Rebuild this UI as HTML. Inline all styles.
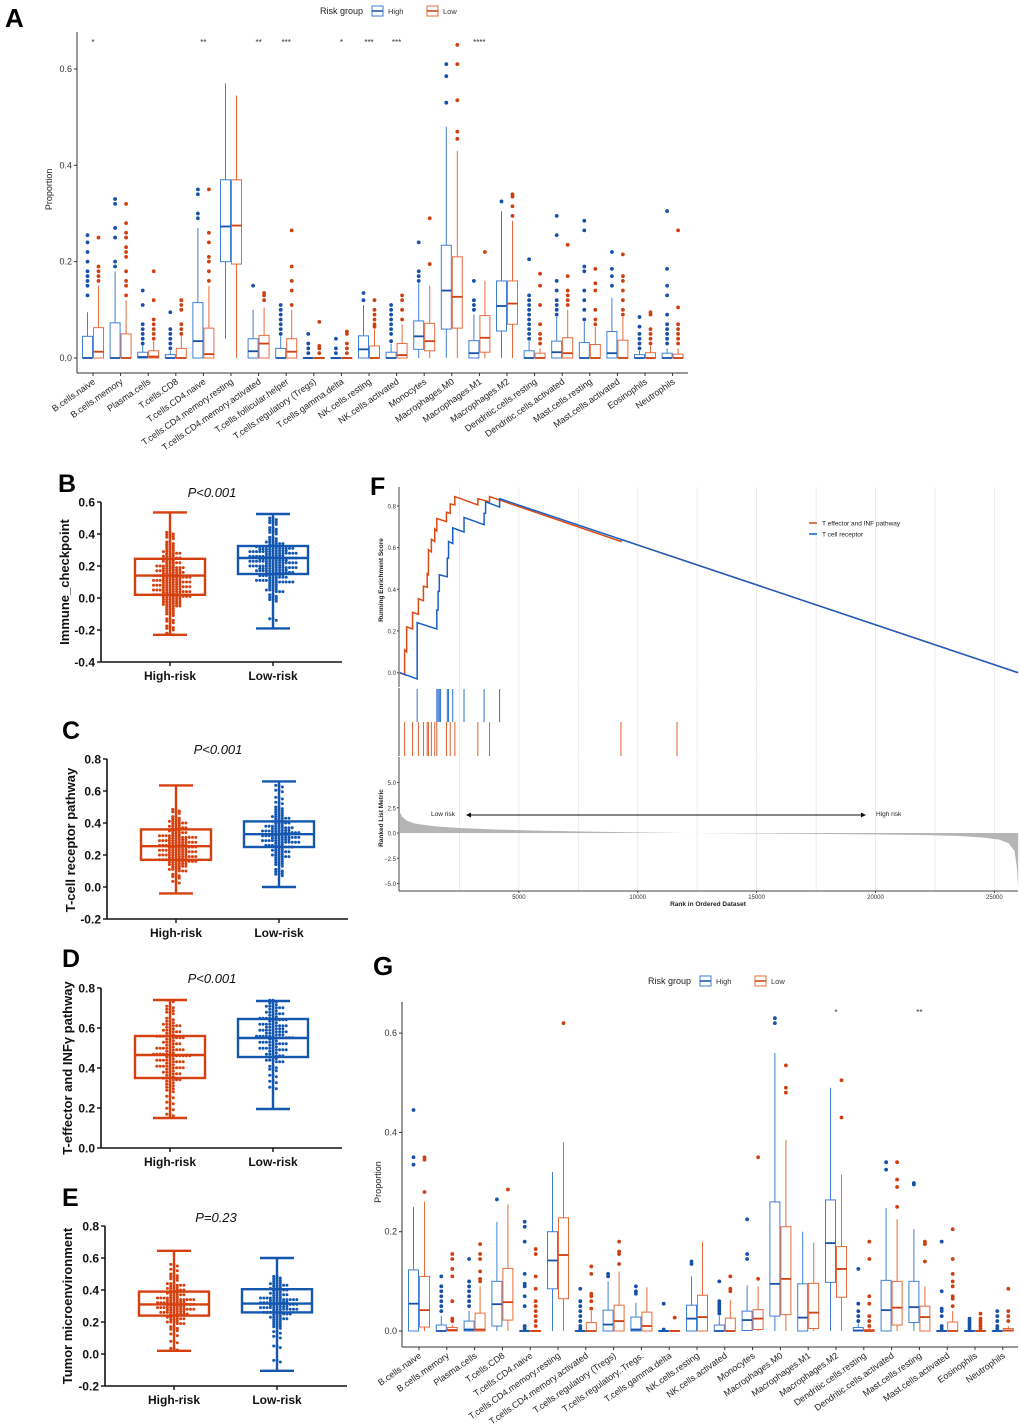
<!DOCTYPE html>
<html><head><meta charset="utf-8"><style>
html,body{margin:0;padding:0;background:#fff;}
svg{display:block;font-family:"Liberation Sans",Arial,sans-serif;}
</style></head><body>
<svg id="fig" width="1020" height="1424" viewBox="0 0 1020 1424" xmlns="http://www.w3.org/2000/svg"></svg>
<script>
// ---------- Panel A data ----------
const catsA = ["B.cells.naive","B.cells.memory","Plasma.cells","T.cells.CD8","T.cells.CD4.naive","T.cells.CD4.memory.resting","T.cells.CD4.memory.activated","T.cells.follicular.helper","T.cells.regulatory (Tregs)","T.cells.gamma.delta","NK.cells.resting","NK.cells.activated","Monocytes","Macrophages.M0","Macrophages.M1","Macrophages.M2","Dendritic.cells.resting","Dendritic.cells.activated","Mast.cells.resting","Mast.cells.activated","Eosinophils","Neutrophils"];
// [whiskerLow, q1, median, q3, whiskerHigh]
const highA = [[0,0,0,.045,.095],[0,0,0,.073,.18],[0,0,.002,.012,.027],[0,0,0,.007,.015],[0,0,.035,.115,.27],[.04,.2,.273,.37,.57],[0,0,.014,.04,.1],[0,0,0,.02,.045],[0,0,0,.001,.002],[0,0,0,.001,.002],[0,0,.018,.046,.11],[0,0,0,.012,.03],[0,.018,.045,.077,.155],[0,.06,.14,.234,.48],[0,0,.01,.036,.09],[0,.056,.108,.16,.305],[0,0,0,.015,.035],[0,0,.012,.035,.085],[0,0,0,.032,.075],[0,0,.01,.055,.125],[0,0,0,.007,.015],[0,0,0,.01,.02]];
const lowA = [[0,0,.013,.063,.15],[0,0,0,.05,.12],[0,0,.003,.015,.035],[0,0,0,.02,.045],[0,0,.008,.062,.15],[0,.195,.275,.37,.545],[0,0,.03,.047,.105],[0,0,.013,.04,.1],[0,0,0,.001,.002],[0,0,0,.001,.002],[0,0,0,.025,.06],[0,0,.006,.03,.07],[0,.015,.035,.072,.15],[0,.062,.127,.21,.43],[0,.012,.042,.088,.16],[0,.07,.113,.16,.285],[0,0,0,.01,.02],[0,0,.01,.042,.1],[0,0,0,.028,.065],[0,0,0,.037,.085],[0,0,0,.011,.025],[0,0,0,.008,.02]];
const highOutA = [[.13,.15,.16,.17,.18,.2,.22,.24,.255],[.19,.2,.25,.27,.32,.33],[.03,.04,.05,.06,.07,.11,.14],[.02,.03,.04,.05,.06,.095],[.29,.3,.34,.35],[],[.15],[.05,.06,.07,.08,.09,.1,.11],[.01,.02,.03,.05],[.01,.02,.04],[.12,.135],[.035,.05,.06,.07,.08,.09,.1,.11],[.16,.17,.18,.24],[.53,.585,.61],[.1,.11,.12,.16],[.325],[.04,.05,.06,.07,.08,.09,.1,.11,.12,.13,.205],[.09,.1,.11,.12,.14,.16,.255,.295],[.08,.1,.12,.14,.18,.19,.265,.285],[.15,.17,.185,.22],[.02,.03,.04,.05,.065,.085],[.03,.04,.05,.06,.07,.09,.13,.15,.185,.305]];
const lowOutA = [[.16,.17,.18,.19,.25],[.13,.15,.16,.18,.21,.22,.23,.25,.26,.28,.32],[.04,.05,.06,.07,.08,.12,.18],[.05,.06,.07,.1,.11,.12],[.16,.18,.2,.21,.24,.26,.35],[],[.12,.13,.135],[.11,.14,.16,.19,.265],[.01,.02,.025,.075],[.01,.02,.03,.05,.055],[.065,.07,.08,.09,.1,.12],[.08,.1,.12,.13],[.195,.29],[.455,.47,.535,.61,.65],[.22],[.295,.315,.335,.34],[.03,.04,.05,.07,.11,.15,.175],[.11,.12,.13,.14,.17,.235],[.07,.08,.1,.14,.155,.185],[.09,.1,.12,.14,.16,.17,.215],[.03,.04,.05,.06,.09,.095],[.03,.04,.05,.06,.07,.105,.265]];
const starsA = ["*","","","","**","","**","***","","*","***","***","","","****","","","","","","",""];
const ticksA = [0,0.2,0.4,0.6];

// ---------- Panel G data ----------
const catsG = ["B.cells.naive","B.cells.memory","Plasma.cells","T.cells.CD8","T.cells.CD4.naive","T.cells.CD4.memory.resting","T.cells.CD4.memory.activated","T.cells.regulatory (Tregs)","T.cells.regulatory..Tregs.","T.cells.gamma.delta","NK.cells.resting","NK.cells.activated","Monocytes","Macrophages.M0","Macrophages.M1","Macrophages.M2","Dendritic.cells.resting","Dendritic.cells.activated","Mast.cells.resting","Mast.cells.activated","Eosinophils","Neutrophils"];
const highG = [[0,0,.055,.123,.25],[0,0,0,.012,.03],[0,0,.003,.02,.04],[0,.01,.054,.1,.22],[0,0,0,.001,.002],[0,.085,.142,.2,.32],[0,0,0,.001,.002],[0,0,.013,.042,.1],[0,0,.003,.028,.057],[0,0,0,.001,.002],[0,0,.025,.052,.11],[0,0,0,.012,.03],[0,.001,.022,.04,.092],[0,.03,.095,.26,.56],[0,0,.027,.095,.2],[0,.098,.177,.264,.49],[0,0,.001,.007,.015],[0,0,.042,.102,.248],[0,.017,.048,.1,.205],[0,0,0,.001,.002],[0,0,0,.001,.002],[0,0,0,.001,.002]];
const lowG = [[0,.008,.042,.11,.26],[0,0,.002,.007,.013],[0,0,.003,.036,.09],[0,.022,.058,.126,.255],[0,0,0,.001,.002],[0,.065,.153,.228,.38],[0,0,0,.017,.04],[0,0,.02,.052,.12],[0,0,.01,.038,.088],[0,0,0,.001,.002],[0,0,.028,.072,.18],[0,0,0,.026,.063],[0,.003,.025,.043,.09],[0,.033,.105,.21,.385],[0,.005,.037,.096,.178],[0,.068,.125,.17,.315],[0,0,0,.003,.006],[0,.012,.047,.1,.225],[0,0,.028,.05,.09],[0,0,0,.018,.04],[0,0,0,.001,.002],[0,0,.001,.005,.01]];
const highOutG = [[.335,.35,.445],[.04,.05,.06,.07,.08,.09,.11],[.05,.06,.07,.08,.09,.1,.145],[.265],[.005,.01,.05,.07,.09,.095,.115,.18,.21,.22],[],[.005,.01,.02,.03,.04,.05,.06,.085],[.11,.115],[.075,.08,.09],[.003,.055],[.135,.14],[.035,.04,.045,.05,.055,.06,.1],[.145,.155,.225],[.62,.63],[],[],[.02,.03,.04,.055,.125],[.325,.34],[.295,.298],[.005,.01,.03,.04,.045,.08,.18],[.005,.01,.015,.02,.025],[.005,.01,.02,.03,.04]];
const lowOutG = [[.28,.345,.35],[.02,.025,.06,.11,.125,.145,.155],[.1,.105,.12,.145,.155,.175],[.285],[.01,.02,.03,.04,.05,.06,.085,.11,.155,.165],[.62],[.045,.06,.07,.075,.115,.13],[.135,.155,.16,.18],[],[.027],[],[.08,.085,.11],[.105,.35],[.48,.49,.535],[],[.43,.505],[.01,.02,.03,.055,.07,.145,.18],[.25,.29,.305,.34],[.14,.175,.18],[.05,.065,.07,.09,.1,.115,.145,.205],[.005,.01,.015,.02,.025,.035],[.02,.03,.04,.085]];
const starsG = ["","","","","","","","","","","","","","","","*","","","**","","",""];
const ticksG = [0,0.2,0.4,0.6];

// ---------- Panels B-E data: [min, q1, median, q3, max] ----------
const boxB_high = [-.23,.02,.14,.245,.535];
const boxB_low = [-.19,.15,.25,.325,.525];
const boxC_high = [-.04,.17,.255,.36,.635];
const boxC_low = [0,.25,.33,.41,.66];
const boxD_high = [.15,.35,.465,.56,.74];
const boxD_low = [.195,.455,.55,.645,.735];
const boxE_high = [.02,.24,.31,.39,.645];
const boxE_low = [-.105,.26,.315,.405,.6];
const dotsB_high = [-0.22,-0.2,-0.18,-0.15,-0.13,-0.1,-0.09,-0.07,-0.06,-0.05,-0.04,-0.03,-0.03,-0.02,-0.01,0,0,0.01,0.01,0.02,0.02,0.03,0.03,0.04,0.04,0.05,0.05,0.06,0.06,0.07,0.07,0.08,0.08,0.09,0.09,0.1,0.1,0.11,0.11,0.12,0.12,0.13,0.13,0.14,0.14,0.15,0.15,0.16,0.16,0.17,0.18,0.18,0.19,0.2,0.2,0.21,0.22,0.23,0.24,0.25,0.26,0.27,0.28,0.29,0.3,0.31,0.33,0.35,0.37,0.39,0.4];
const dotsB_low = [-0.13,-0.01,0,0.02,0.04,0.05,0.06,0.08,0.09,0.1,0.1,0.11,0.11,0.12,0.13,0.14,0.14,0.15,0.15,0.16,0.16,0.17,0.17,0.18,0.18,0.18,0.19,0.19,0.2,0.2,0.2,0.21,0.21,0.22,0.22,0.22,0.23,0.23,0.24,0.24,0.24,0.25,0.25,0.25,0.26,0.26,0.27,0.27,0.28,0.28,0.28,0.29,0.29,0.3,0.3,0.3,0.31,0.31,0.32,0.32,0.33,0.34,0.35,0.36,0.38,0.4,0.42,0.44,0.46,0.48,0.5];
const dotsC_high = [0.03,0.06,0.08,0.1,0.11,0.12,0.13,0.14,0.15,0.15,0.16,0.16,0.17,0.17,0.18,0.18,0.19,0.19,0.2,0.2,0.21,0.21,0.22,0.22,0.23,0.23,0.24,0.24,0.25,0.25,0.26,0.26,0.27,0.27,0.28,0.28,0.29,0.29,0.3,0.3,0.31,0.31,0.32,0.32,0.33,0.34,0.35,0.36,0.37,0.38,0.39,0.4,0.41,0.42,0.44,0.46,0.48];
const dotsC_low = [0.07,0.09,0.11,0.13,0.15,0.17,0.18,0.19,0.2,0.21,0.22,0.23,0.24,0.25,0.25,0.26,0.27,0.28,0.28,0.29,0.29,0.3,0.3,0.31,0.31,0.32,0.32,0.33,0.33,0.34,0.34,0.35,0.35,0.36,0.36,0.37,0.38,0.38,0.39,0.4,0.41,0.42,0.43,0.44,0.45,0.46,0.48,0.5,0.52,0.55,0.6,0.63];
const dotsD_high = [0.17,0.2,0.23,0.26,0.28,0.3,0.32,0.33,0.34,0.35,0.36,0.37,0.38,0.39,0.4,0.4,0.41,0.42,0.43,0.44,0.44,0.45,0.46,0.46,0.47,0.47,0.48,0.49,0.5,0.5,0.51,0.52,0.53,0.54,0.55,0.55,0.56,0.57,0.58,0.59,0.6,0.61,0.62,0.63,0.65,0.67,0.69,0.71,0.73];
const dotsD_low = [0.3,0.33,0.36,0.39,0.41,0.43,0.44,0.45,0.46,0.47,0.48,0.49,0.5,0.5,0.51,0.52,0.53,0.53,0.54,0.55,0.55,0.56,0.56,0.57,0.57,0.58,0.58,0.59,0.6,0.6,0.61,0.62,0.62,0.63,0.64,0.64,0.65,0.66,0.67,0.68,0.69,0.7,0.71,0.72,0.73];
const dotsE_high = [0.03,0.08,0.12,0.15,0.17,0.19,0.2,0.21,0.22,0.23,0.24,0.25,0.25,0.26,0.27,0.27,0.28,0.28,0.29,0.29,0.3,0.3,0.31,0.31,0.32,0.32,0.33,0.33,0.34,0.34,0.35,0.35,0.36,0.37,0.38,0.39,0.4,0.41,0.42,0.43,0.44,0.46,0.48,0.5,0.52,0.55];
const dotsE_low = [-0.05,0.05,0.1,0.13,0.16,0.18,0.2,0.21,0.22,0.23,0.24,0.25,0.26,0.26,0.27,0.28,0.28,0.29,0.29,0.3,0.3,0.31,0.31,0.32,0.32,0.33,0.33,0.34,0.34,0.35,0.35,0.36,0.37,0.38,0.39,0.4,0.41,0.42,0.43,0.44,0.45,0.46,0.48];

// ---------- Panel F data ----------
const esRanksOrange = [0,194,194,280,280,528,528,774,774,986,986,1144,1144,1197,1197,1320,1320,1461,1461,1549,1549,1954,1954,2112,2112,2306,2306,3274,3274,3766,3766,9293,9293,11651,26000];
const esValsOrange = [0,-.01,.11,.10,.22,.21,.29,.28,.355,.345,.415,.41,.475,.47,.59,.58,.64,.63,.69,.68,.74,.725,.77,.765,.81,.805,.845,.805,.835,.82,.845,.63,.64,.55,0];
const esRanksBlue = [0,722,722,1549,1549,1602,1602,1654,1654,1989,1989,2042,2042,2218,2218,2693,2693,3538,3538,3600,3600,4189,4189,26000];
const esValsBlue = [0,-.03,.24,.21,.30,.30,.39,.39,.47,.46,.55,.55,.63,.62,.695,.675,.745,.71,.765,.765,.82,.795,.835,0];
const hitsBlue = [722,1549,1602,1654,1707,1989,2042,2218,2693,3538,4189];
const hitsOrange = [194,528,774,986,1144,1197,1320,1461,1549,1954,2112,2306,3274,3766,9293,11651];
const metricRanks = [0,100,300,600,1000,1500,2500,4000,6000,8000,10000,12000,14000,16000,18000,20000,22000,23500,24500,25200,25600,25850,25950,26000];
const metricVals = [2.0,1.6,1.2,0.95,0.8,0.65,0.5,0.35,0.22,0.14,0.06,0,-0.03,-0.06,-0.1,-0.14,-0.2,-0.3,-0.45,-0.65,-1.0,-1.8,-3.5,-5.5];
const esTicks = [0,0.2,0.4,0.6,0.8];
const metricTicks = [-5,-2.5,0,2.5,5];
const rankTicks = [5000,10000,15000,20000,25000];

// ---------- helpers ----------
const NS = "http://www.w3.org/2000/svg";
const svg = document.getElementById("fig");
function el(tag, attrs, parent, text){
  const e = document.createElementNS(NS, tag);
  for (const k in attrs) e.setAttribute(k, attrs[k]);
  if (text !== undefined) e.textContent = text;
  (parent || svg).appendChild(e);
  return e;
}
function grp(name, parent){
  const g = el("g", {}, parent);
  
  
  return g;
}
const BLUE_L = "#3f7fd6", BLUE_D = "#1650aa", OR_L = "#ea6a3c", OR_D = "#cf3f10";

// ---------- Immune box panel (A & G) ----------
function immunePanel(o){
  const g = grp(o.name);
  const y = v => o.y0 - v * o.ppu;
  const x = i => o.x0 + i * o.step;
  const lt = el("text",{x:o.letX,y:o.letY,"font-size":26,"font-weight":"bold",fill:"#000"},g,o.letter);
  
  el("line",{x1:o.ax,y1:o.top,x2:o.ax,y2:o.axY,stroke:"#333","stroke-width":1},g);
  el("line",{x1:o.ax,y1:o.axY,x2:o.right,y2:o.axY,stroke:"#333","stroke-width":1},g);
  o.ticks.forEach(t=>{
    el("line",{x1:o.ax-3,y1:y(t),x2:o.ax,y2:y(t),stroke:"#333"},g);
    const tx = el("text",{x:o.ax-5,y:y(t)+3,"font-size":9,"text-anchor":"end",fill:"#333"},g,t.toFixed(1));
    
  });
  const yt = el("text",{x:0,y:0,"font-size":9,"text-anchor":"middle",fill:"#222",transform:`translate(${o.ytX},${y(o.ytV)}) rotate(-90)`},g,"Proportion");
  
  o.cats.forEach((c,i)=>{
    const cx = x(i);
    el("line",{x1:cx,y1:o.axY,x2:cx,y2:o.axY+3,stroke:"#333"},g);
    const lb = el("text",{x:0,y:0,"font-size":9,"text-anchor":"end",fill:"#222",transform:`translate(${cx+3},${o.axY+10}) rotate(-35)`},g,c);
    
    [[o.high[i],o.highOut[i],-1,BLUE_L,BLUE_D],[o.low[i],o.lowOut[i],1,OR_L,OR_D]].forEach(([b,outs,s,cl,cd])=>{
      const bx = cx + s*o.off, hw = o.hw;
      const bg = grp(s<0?"box-high":"box-low", g);
      el("line",{x1:bx,y1:y(b[0]),x2:bx,y2:y(b[1]),stroke:cl,"stroke-width":1},bg);
      el("line",{x1:bx,y1:y(b[3]),x2:bx,y2:y(b[4]),stroke:cl,"stroke-width":1},bg);
      el("rect",{x:bx-hw,y:y(b[3]),width:2*hw,height:Math.max(0.8,y(b[1])-y(b[3])),fill:"none",stroke:cl,"stroke-width":1},bg);
      el("line",{x1:bx-hw,y1:y(b[2]),x2:bx+hw,y2:y(b[2]),stroke:cd,"stroke-width":1.8},bg);
      outs.forEach(v=>{ el("circle",{cx:bx,cy:y(v),r:1.9,fill:cd},bg); });
    });
    if (o.stars[i]) {
      const st = el("text",{x:cx,y:o.starY,"font-size":8,"text-anchor":"middle",fill:"#333"},g,o.stars[i]);
      
    }
  });
  const lg = grp("legend", g);
  el("text",{x:o.legX,y:o.legY+3,"font-size":9,fill:"#222"},lg,"Risk group");
  [[o.legX+52,"High",BLUE_L,BLUE_D],[o.legX+107,"Low",OR_L,OR_D]].forEach(([lx,t,cl,cd])=>{
    el("rect",{x:lx,y:o.legY-5,width:11,height:10,fill:"none",stroke:cl},lg);
    el("line",{x1:lx,y1:o.legY,x2:lx+11,y2:o.legY,stroke:cd,"stroke-width":1.5},lg);
    const le = el("text",{x:lx+16,y:o.legY+3,"font-size":7.5,fill:"#333"},lg,t);
    
  });
}
immunePanel({name:"panel-a",letter:"A",letX:5,letY:27,cats:catsA,high:highA,low:lowA,highOut:highOutA,lowOut:lowOutA,stars:starsA,ticks:ticksA,
  ax:77,top:32,axY:373,right:688,y0:358,ppu:481.7,x0:93,step:27.6,off:5.5,hw:5,ytX:52,ytV:0.35,starY:45,legX:320,legY:11});
immunePanel({name:"panel-g",letter:"G",letX:373,letY:975,cats:catsG,high:highG,low:lowG,highOut:highOutG,lowOut:lowOutG,stars:starsG,ticks:ticksG,
  ax:402,top:1002,axY:1347,right:1018,y0:1331,ppu:496.5,x0:419,step:27.8,off:5.5,hw:5,ytX:381,ytV:0.3,starY:1015,legX:648,legY:981});

// ---------- Beeswarm panels B-E ----------
function swarmPanel(o){
  const g = grp(o.name);
  const y = v => o.yTop + (o.vTop - v) / (o.vTop - o.vBot) * (o.yBot - o.yTop);
  el("line",{x1:o.ax,y1:o.yTop,x2:o.ax,y2:o.yBot,stroke:"#111","stroke-width":1.6},g);
  el("line",{x1:o.ax,y1:o.yBot,x2:o.xEnd,y2:o.yBot,stroke:"#111","stroke-width":1.6},g);
  o.ticks.forEach(t=>{
    el("line",{x1:o.ax-4,y1:y(t),x2:o.ax,y2:y(t),stroke:"#111","stroke-width":1.4},g);
    const tl = el("text",{x:o.ax-6,y:y(t)+4.5,"font-size":12,"font-weight":"bold","text-anchor":"end",fill:"#111"},g,t.toFixed(1));
    
  });
  const yt = el("text",{x:0,y:0,"font-size":13,"font-weight":"bold","text-anchor":"middle",fill:"#111",transform:`translate(${o.ytX},${o.ytY}) rotate(-90)`},g,o.ytitle);
  
  const pt = el("text",{x:o.pX,y:o.pY,"font-size":13,"font-style":"italic","text-anchor":"middle",fill:"#111"},g,o.p);
  
  const lt = el("text",{x:o.lX,y:o.lY,"font-size":25,"font-weight":"bold",fill:"#000"},g,o.letter);
  
  [[o.hiX,o.boxH,o.dotsH,"#d6400f","High-risk","group-high-risk"],[o.loX,o.boxL,o.dotsL,"#1457b0","Low-risk","group-low-risk"]].forEach(([cx,b,dots,col,lab,nm])=>{
    const gg = grp(nm, g);
    el("line",{x1:cx,y1:o.yBot,x2:cx,y2:o.yBot+4,stroke:"#111","stroke-width":1.4},gg);
    const xl = el("text",{x:cx,y:o.labY,"font-size":12,"font-weight":"bold","text-anchor":"middle",fill:"#111"},gg,lab);
    
    el("line",{x1:cx,y1:y(b[0]),x2:cx,y2:y(b[4]),stroke:col,"stroke-width":2.4},gg);
    el("line",{x1:cx-17,y1:y(b[0]),x2:cx+17,y2:y(b[0]),stroke:col,"stroke-width":2.4},gg);
    el("line",{x1:cx-17,y1:y(b[4]),x2:cx+17,y2:y(b[4]),stroke:col,"stroke-width":2.4},gg);
    el("rect",{x:cx-35,y:y(b[3]),width:70,height:y(b[1])-y(b[3]),fill:"none",stroke:col,"stroke-width":2.4},gg);
    el("line",{x1:cx-35,y1:y(b[2]),x2:cx+35,y2:y(b[2]),stroke:col,"stroke-width":2.4},gg);
    // beeswarm: each value represents ~3 samples
    const bins = {};
    dots.forEach(v=>{
      const k = Math.round(v/0.015);
      for (let d=0; d<3; d++) {
        bins[k] = (bins[k]||0);
        const n = bins[k]++;
        const off = n===0?0:(n%2? 1:-1)*Math.ceil(n/2)*3.3;
        const c = el("circle",{cx:cx + off, cy:y(k*0.015) + (n%2?0.8:-0.8), r:1.5, fill:col},gg);
        
      }
    });
  });
}
swarmPanel({name:"panel-b",letter:"B",lX:58,lY:492,ax:101,yTop:502,yBot:662,vTop:0.6,vBot:-0.4,xEnd:342,ticks:[0.6,0.4,0.2,0.0,-0.2,-0.4],
  hiX:170,loX:273,boxH:boxB_high,boxL:boxB_low,dotsH:dotsB_high,dotsL:dotsB_low,labY:680,pX:212,pY:497,p:"P<0.001",ytitle:"Immune_checkpoint",ytX:69,ytY:582});
swarmPanel({name:"panel-c",letter:"C",lX:62,lY:739,ax:107,yTop:759,yBot:919,vTop:0.8,vBot:-0.2,xEnd:348,ticks:[0.8,0.6,0.4,0.2,0.0,-0.2],
  hiX:176,loX:279,boxH:boxC_high,boxL:boxC_low,dotsH:dotsC_high,dotsL:dotsC_low,labY:937,pX:218,pY:754,p:"P<0.001",ytitle:"T-cell receptor pathway",ytX:75,ytY:840});
swarmPanel({name:"panel-d",letter:"D",lX:62,lY:967,ax:101,yTop:988,yBot:1148,vTop:0.8,vBot:0.0,xEnd:342,ticks:[0.8,0.6,0.4,0.2,0.0],
  hiX:170,loX:273,boxH:boxD_high,boxL:boxD_low,dotsH:dotsD_high,dotsL:dotsD_low,labY:1166,pX:212,pY:983,p:"P<0.001",ytitle:"T-effector and INFγ pathway",ytX:72,ytY:1068});
swarmPanel({name:"panel-e",letter:"E",lX:62,lY:1206,ax:105,yTop:1226,yBot:1386,vTop:0.8,vBot:-0.2,xEnd:347,ticks:[0.8,0.6,0.4,0.2,0.0,-0.2],
  hiX:174,loX:277,boxH:boxE_high,boxL:boxE_low,dotsH:dotsE_high,dotsL:dotsE_low,labY:1404,pX:216,pY:1222,p:"P=0.23",ytitle:"Tumor microenvironment",ytX:72,ytY:1306});

// ---------- Panel F (GSEA) ----------
(function(){
  const g = grp("panel-f");
  const L = 399, R = 1018;
  const xr = r => 400 + r * 0.023775;
  const yes = v => 672.7 - v * 208.4;
  const ym = v => 833 - v * 10.1;
  const lt = el("text",{x:370,y:495,"font-size":25,"font-weight":"bold",fill:"#000"},g,"F");
  
  for (let r = 2500; r < 26000; r += 2500) {
    [[487,687],[688,756],[757,891]].forEach(([a,b])=>{
      el("line",{x1:xr(r),y1:a,x2:xr(r),y2:b,stroke:"#e8e8e8","stroke-width":0.8},g);
    });
  }
  [[487,687],[688,756],[757,891]].forEach(([a,b])=>{ el("line",{x1:L,y1:a,x2:L,y2:b,stroke:"#444","stroke-width":1},g); });
  el("line",{x1:L,y1:891,x2:R,y2:891,stroke:"#444","stroke-width":1},g);
  esTicks.forEach(t=>{
    el("line",{x1:L-2,y1:yes(t),x2:L,y2:yes(t),stroke:"#444"},g);
    el("text",{x:L-3,y:yes(t)+2.5,"font-size":6,"text-anchor":"end",fill:"#333"},g,t.toFixed(1));
  });
  metricTicks.forEach(t=>{
    el("line",{x1:L-2,y1:ym(t),x2:L,y2:ym(t),stroke:"#444"},g);
    el("text",{x:L-3,y:ym(t)+2.5,"font-size":6,"text-anchor":"end",fill:"#333"},g,t.toFixed(1).replace("-","−"));
  });
  rankTicks.forEach(t=>{
    el("line",{x1:xr(t),y1:891,x2:xr(t),y2:893,stroke:"#444"},g);
    el("text",{x:xr(t),y:899,"font-size":6,"text-anchor":"middle",fill:"#333"},g,String(t));
  });
  el("text",{x:708,y:906,"font-size":6.5,"font-weight":"bold","text-anchor":"middle",fill:"#222"},g,"Rank in Ordered Dataset");
  el("text",{x:0,y:0,"font-size":6.5,"font-weight":"bold","text-anchor":"middle",fill:"#222",transform:"translate(383,580) rotate(-90)"},g,"Running Enrichment Score");
  el("text",{x:0,y:0,"font-size":6.5,"font-weight":"bold","text-anchor":"middle",fill:"#222",transform:"translate(383,818) rotate(-90)"},g,"Ranked List Metric");
  let d = `M${xr(metricRanks[0])},${ym(0)}`;
  metricRanks.forEach((r,i)=>{ d += ` L${xr(r)},${ym(metricVals[i])}`; });
  d += ` L${xr(metricRanks[metricRanks.length-1])},${ym(0)} Z`;
  el("path",{d:d,fill:"#b5b5b5",stroke:"none"},g);
  hitsBlue.forEach(r=>{ el("line",{x1:xr(r),y1:689,x2:xr(r),y2:722,stroke:"#2f6fd0","stroke-width":1},g); });
  hitsOrange.forEach(r=>{ el("line",{x1:xr(r),y1:722,x2:xr(r),y2:756,stroke:"#e0602e","stroke-width":1},g); });
  const pth = (rs, vs) => rs.map((r,i)=>(i?"L":"M")+xr(r)+","+yes(vs[i])).join(" ");
  el("path",{d:pth(esRanksOrange,esValsOrange),fill:"none",stroke:"#dc4a16","stroke-width":1.5},g);
  el("path",{d:pth(esRanksBlue,esValsBlue),fill:"none",stroke:"#1a5fc4","stroke-width":1.5},g);
  const lg = grp("legend", g);
  el("line",{x1:809,y1:523,x2:817,y2:523,stroke:"#dc4a16","stroke-width":1.5},lg);
  el("text",{x:822,y:525.5,"font-size":6.5,fill:"#222"},lg,"T effector and INF pathway");
  el("line",{x1:809,y1:534,x2:817,y2:534,stroke:"#1a5fc4","stroke-width":1.5},lg);
  el("text",{x:822,y:536.5,"font-size":6.5,fill:"#222"},lg,"T cell receptor");
  el("text",{x:431,y:816,"font-size":6.5,fill:"#222"},g,"Low risk");
  el("text",{x:876,y:816,"font-size":6.5,fill:"#222"},g,"High risk");
  el("line",{x1:467,y1:815,x2:865,y2:815,stroke:"#111","stroke-width":0.9},g);
  el("path",{d:"M466,815 l5,-2.5 v5 Z M866,815 l-5,-2.5 v5 Z",fill:"#111"},g);
})();
</script>
</body></html>
